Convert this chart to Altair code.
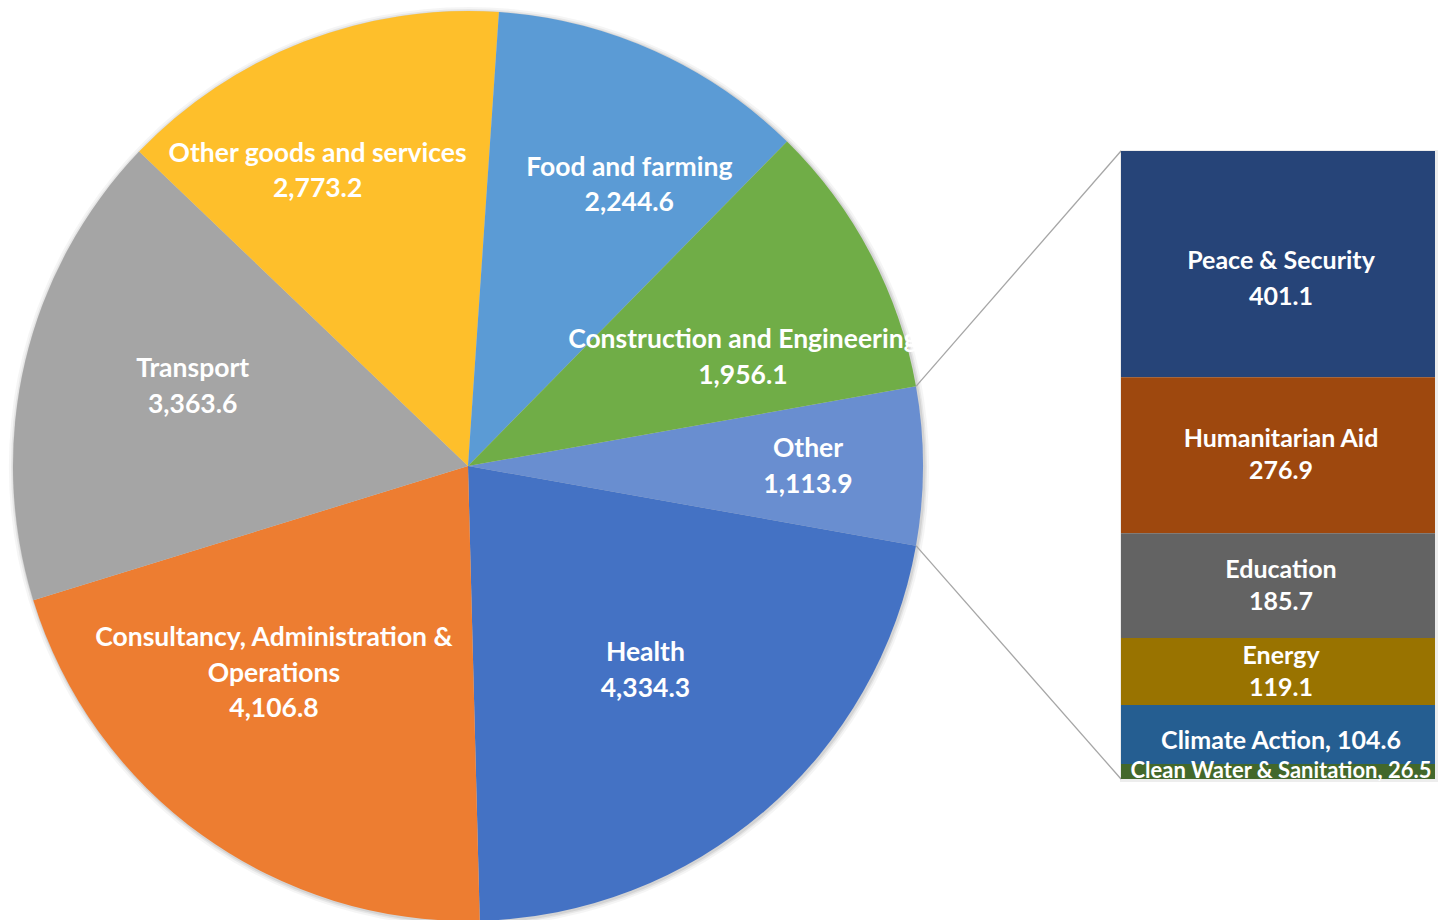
import math
import altair as alt
import pandas as pd

# ---- data ----
pie_categories = ["Other", "Health", "Consultancy, Administration & Operations", "Transport",
                  "Other goods and services", "Food and farming", "Construction and Engineering"]
pie_values = [1113.9, 4334.3, 4106.8, 3363.6, 2773.2, 2244.6, 1956.1]
pie_label_names = ["Other", "Health", "Consultancy, Administration &\nOperations", "Transport",
                   "Other goods and services", "Food and farming", "Construction and Engineering"]

sub_categories = ["Peace & Security", "Humanitarian Aid", "Education", "Energy",
                  "Climate Action", "Clean Water & Sanitation"]
sub_values = [401.1, 276.9, 185.7, 119.1, 104.6, 26.5]
sub_label_sep = ["\n", "\n", "\n", "\n", ", ", ", "]

# ---- styles / layout ----
pie_colors = ["#698ED0", "#4472C4", "#ED7D31", "#A5A5A5", "#FEBF2B", "#5B9BD5", "#70AD47"]
sub_colors = ["#264478", "#9E480E", "#636363", "#997300", "#255E91", "#43682B"]
FONT = "Lato"
CX, CY, R = 468, 466, 455
BAR_X0, BAR_X1, BAR_TOP, BAR_BOT = 1121, 1435, 151, 779
BAR_TEXT_X = 1281
PIE_FS, PIE_LH = 26.5, 35.5
label_place = {
    "Other": (340, 0, 1),
    "Health": (269, 2, 1),
    "Consultancy, Administration & Operations": (283, -29, -22),
    "Transport": (287, 4, -13),
    "Other goods and services": (333, -30, 16),
    "Food and farming": (325, 28, 16),
    "Construction and Engineering": (296, 13, 30),
}
# bar label groups: (categories, font size, line height, dy)
bar_label_groups = [
    (["Peace & Security"], 25, 36, -3),
    (["Humanitarian Aid", "Education", "Energy"], 25, 32, -16),
    (["Climate Action"], 25, 32, 6),
    (["Clean Water & Sanitation"], 22, 32, -1),
]

total = sum(pie_values)
other_share = pie_values[0] / total
start = math.pi / 2 - math.pi * other_share
end_other = start + 2 * math.pi * other_share

pie_labels = [f"{n}\n{v:,.1f}" for n, v in zip(pie_label_names, pie_values)]
pie_df = pd.DataFrame({
    "category": pie_categories,
    "value": pie_values,
    "idx": list(range(len(pie_values))),
    "label": pie_labels,
})
sub_df = pd.DataFrame({
    "category": sub_categories,
    "value": sub_values,
    "idx": list(range(len(sub_values))),
    "label": [f"{n}{s}{v:,.1f}" for n, s, v in zip(sub_categories, sub_label_sep, sub_values)],
})

color_scale = alt.Scale(domain=pie_categories + sub_categories, range=pie_colors + sub_colors)
theta_scale = alt.Scale(range=[start, start + 2 * math.pi])
y_scale = alt.Scale(domain=[0, sum(sub_values)], range=[BAR_TOP, BAR_BOT])

one = pd.DataFrame({"k": [1]})
shadows = [
    alt.Chart(one).mark_arc(outerRadius=R + w, color="#000000", opacity=op).encode(
        theta=alt.value(2 * math.pi), x=alt.value(CX + 1), y=alt.value(CY + 1))
    for w, op in [(5, 0.04), (3, 0.06), (1.5, 0.08)]
]

pie_base = alt.Chart(pie_df).encode(
    theta=alt.Theta("value:Q", stack=True, scale=theta_scale),
    order=alt.Order("idx:Q"),
    x=alt.value(CX),
    y=alt.value(CY),
)
pie = pie_base.mark_arc(outerRadius=R).encode(
    color=alt.Color("category:N", scale=color_scale, legend=None)
)

label_layers = []
for cat, lab in zip(pie_categories, pie_labels):
    r, dx, dy = label_place[cat]
    nlines = lab.count("\n") + 1
    label_layers.append(
        pie_base.mark_text(radius=r, dx=dx, dy=dy - (nlines - 1) * PIE_LH / 2, font=FONT,
                           fontWeight="bold", fontSize=PIE_FS, color="white", lineBreak="\n",
                           lineHeight=PIE_LH, align="center", baseline="middle").encode(
            text=alt.condition(f"datum.category === '{cat}'", alt.Text("label:N"), alt.value(""))
        )
    )

p1 = (CX + R * math.sin(start), CY - R * math.cos(start))
p2 = (CX + R * math.sin(end_other), CY - R * math.cos(end_other))
conn1 = alt.Chart(one).mark_rule(color="#A6A6A6", strokeWidth=1.3).encode(
    x=alt.value(p1[0]), y=alt.value(p1[1]), x2=alt.value(BAR_X0), y2=alt.value(BAR_TOP))
conn2 = alt.Chart(one).mark_rule(color="#A6A6A6", strokeWidth=1.3).encode(
    x=alt.value(p2[0]), y=alt.value(p2[1]), x2=alt.value(BAR_X0), y2=alt.value(BAR_BOT))

bar_base = alt.Chart(sub_df).transform_window(
    cum="sum(value)", sort=[alt.SortField("idx")], frame=[None, 0]
).transform_calculate(
    start="datum.cum - datum.value", mid="datum.cum - datum.value / 2"
)
bar_shadow = alt.Chart(one).mark_rect(color="#000000", opacity=0.07).encode(
    x=alt.value(BAR_X0 - 1), x2=alt.value(BAR_X1 + 3), y=alt.value(BAR_TOP - 1), y2=alt.value(BAR_BOT + 3))
bar = bar_base.mark_rect().encode(
    x=alt.value(BAR_X0), x2=alt.value(BAR_X1),
    y=alt.Y("start:Q", scale=y_scale, axis=None), y2="cum:Q",
    color=alt.Color("category:N", scale=color_scale, legend=None),
)
bar_text_layers = []
for cats, fs, lh, dy in bar_label_groups:
    bar_text_layers.append(
        bar_base.transform_filter(alt.FieldOneOfPredicate(field="category", oneOf=cats)).mark_text(
            font=FONT, fontWeight="bold", color="white", lineBreak="\n", fontSize=fs,
            lineHeight=lh, dy=dy, align="center", baseline="middle").encode(
            x=alt.value(BAR_TEXT_X),
            y=alt.Y("mid:Q", scale=y_scale, axis=None),
            text="label:N",
        )
    )

chart = alt.layer(*shadows, pie, conn1, conn2, bar_shadow, bar, *label_layers, *bar_text_layers).properties(
    width=1439, height=920, padding=0, autosize="none"
).configure_view(stroke=None)

chart.save("out.html", embed_options={"renderer": "svg", "actions": False})
